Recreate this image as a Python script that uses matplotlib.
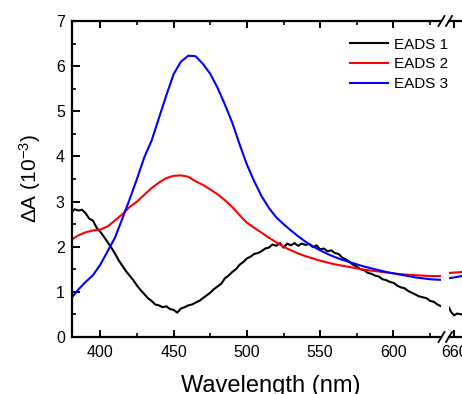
import numpy as np
import matplotlib
matplotlib.use("Agg")
import matplotlib.pyplot as plt
from matplotlib.ticker import MultipleLocator

plt.rcParams['font.family'] = ['Liberation Sans', 'DejaVu Sans']
plt.rcParams['mathtext.fontset'] = 'custom'
plt.rcParams['mathtext.rm'] = 'Liberation Sans'
plt.rcParams['mathtext.it'] = 'Liberation Sans:italic'

# ---- data ----
wl = np.arange(380, 635.1, 5)
eads2 = [2.15, 2.25, 2.32, 2.36, 2.38, 2.45, 2.58, 2.72, 2.88, 3.00, 3.15, 3.30, 3.42, 3.52,
         3.57, 3.58, 3.55, 3.45, 3.37, 3.27, 3.16, 3.03, 2.88, 2.70, 2.53, 2.42, 2.31, 2.20,
         2.10, 2.00, 1.92, 1.85, 1.79, 1.74, 1.69, 1.65, 1.61, 1.58, 1.55, 1.52, 1.49, 1.47,
         1.45, 1.43, 1.41, 1.39, 1.38, 1.37, 1.36, 1.35, 1.35, 1.35]
eads3 = [0.85, 1.05, 1.22, 1.37, 1.60, 1.90, 2.20, 2.62, 3.05, 3.50, 3.98, 4.35, 4.85, 5.35,
         5.82, 6.10, 6.23, 6.22, 6.05, 5.83, 5.52, 5.15, 4.75, 4.27, 3.82, 3.45, 3.12, 2.86,
         2.65, 2.50, 2.36, 2.23, 2.11, 2.01, 1.92, 1.84, 1.77, 1.71, 1.66, 1.61, 1.56, 1.52,
         1.48, 1.44, 1.41, 1.38, 1.35, 1.32, 1.30, 1.28, 1.27, 1.26]
wl_b = np.arange(380, 635.1, 2.5)
eads1 = [2.75, 2.83, 2.80, 2.82, 2.74, 2.62, 2.58, 2.42, 2.33, 2.22, 2.10, 1.98, 1.85, 1.70,
         1.58, 1.46, 1.36, 1.26, 1.14, 1.04, 0.95, 0.86, 0.80, 0.72, 0.70, 0.66, 0.68, 0.62,
         0.60, 0.54, 0.63, 0.66, 0.70, 0.72, 0.76, 0.80, 0.86, 0.92, 0.98, 1.06, 1.12, 1.18,
         1.30, 1.36, 1.44, 1.50, 1.60, 1.66, 1.74, 1.78, 1.84, 1.86, 1.90, 1.96, 1.98, 2.05,
         2.02, 2.08, 1.98, 2.07, 2.03, 2.08, 2.02, 2.07, 2.04, 2.06, 1.99, 2.03, 1.94, 1.96,
         1.90, 1.92, 1.86, 1.84, 1.76, 1.72, 1.66, 1.60, 1.56, 1.50, 1.48, 1.42, 1.40, 1.36,
         1.34, 1.28, 1.26, 1.22, 1.20, 1.14, 1.10, 1.08, 1.02, 0.98, 0.94, 0.90, 0.88, 0.86,
         0.80, 0.78, 0.72, 0.68, 0.66]
# segment after the axis break
wl_r = [656, 658, 660, 662, 665, 670]
eads1_r = [0.68, 0.55, 0.48, 0.52, 0.50, 0.50]
eads2_r = [1.42, 1.42, 1.43, 1.43, 1.44, 1.45]
eads3_r = [1.30, 1.31, 1.32, 1.33, 1.35, 1.37]
labels = ['EADS 1', 'EADS 2', 'EADS 3']
colors = ['black', 'red', 'blue']

W, H = 462, 394
fig = plt.figure(figsize=(W / 100, H / 100), dpi=100)
x0, x1, y0, y1 = 71.7, 441, 21, 337
pxnm = 1.466
ax1 = fig.add_axes([x0 / W, (H - y1) / H, (x1 - x0) / W, (y1 - y0) / H])
ax2_l = 449
ax2w = 120
ax2 = fig.add_axes([ax2_l / W, (H - y1) / H, ax2w / W, (y1 - y0) / H])
ax2.patch.set_alpha(0)

lw = 1.5
lines = []
for ax, xs, xb, ser in [(ax1, wl, wl_b, (eads1, eads2, eads3)),
                        (ax2, wl_r, wl_r, (eads1_r, eads2_r, eads3_r))]:
    l1, = ax.plot(xb, ser[0], color=colors[0], lw=lw, label=labels[0])
    l2, = ax.plot(xs, ser[1], color=colors[1], lw=lw, label=labels[1])
    l3, = ax.plot(xs, ser[2], color=colors[2], lw=lw, label=labels[2])
    if ax is ax1:
        lines = [l1, l2, l3]
    ax.set_ylim(0, 7)
    for s in ax.spines.values():
        s.set_linewidth(1.6)
    ax.xaxis.set_major_locator(MultipleLocator(50))
    ax.xaxis.set_minor_locator(MultipleLocator(25))
    ax.yaxis.set_major_locator(MultipleLocator(1))
    ax.yaxis.set_minor_locator(MultipleLocator(0.5))
    ax.tick_params(which='major', direction='in', length=5, width=1.4, top=True,
                   labelsize=11.5, pad=6)
    ax.tick_params(which='minor', direction='in', length=3, width=1.2, top=True)

xmin1 = 380.5
ax1.set_xlim(xmin1, xmin1 + (x1 - x0) / pxnm)
ax1.spines['right'].set_visible(False)
ax1.tick_params(which='both', right=False)
ax1.tick_params(axis='y', which='major', length=6, pad=5)

xmin2 = 656.5
ax2.set_xlim(xmin2, xmin2 + ax2w / pxnm)
ax2.set_xticks([660])
ax2.spines['left'].set_visible(False)
ax2.tick_params(axis='y', which='both', left=False, labelleft=False)

# break marks
for xp in (x1 + 0.5, ax2_l):
    for yp in (y0, y1):
        fx, fy = xp / W, (H - yp) / H
        fig.add_artist(plt.Line2D([fx - 3 / W, fx + 3 / W], [fy - 5 / H, fy + 5 / H],
                                  color='black', lw=1.3, transform=fig.transFigure))

ax1.set_ylabel(r'$\Delta$A (10$^{-3}$)', fontsize=15, labelpad=9)
fig.text(271 / W, 2 / H, 'Wavelength (nm)', ha='center', va='baseline', fontsize=17)

leg = fig.legend(handles=lines, labels=labels, loc='upper left',
                 bbox_to_anchor=(342 / W, (H - 30) / H), frameon=False, fontsize=11,
                 handlelength=2.5, handletextpad=0.4, labelspacing=0.38, borderpad=0)

fig.savefig('out.png', dpi=100)
